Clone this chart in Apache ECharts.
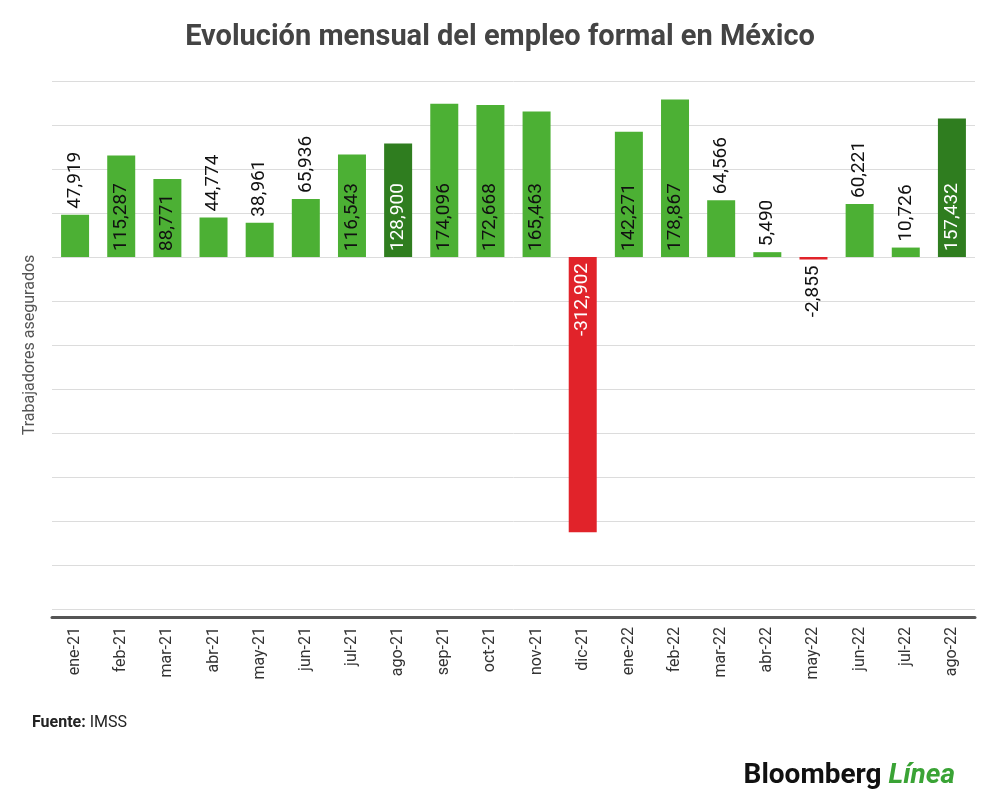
<!DOCTYPE html>
<html><head><meta charset="utf-8">
<script src="https://cdn.jsdelivr.net/npm/echarts@6/dist/echarts.min.js"></script>
<style>body{margin:0;background:#fff}#c{width:1000px;height:812px}</style>
</head><body><div id="c"></div>
<script>
var months = ['ene-21','feb-21','mar-21','abr-21','may-21','jun-21','jul-21','ago-21','sep-21','oct-21','nov-21','dic-21','ene-22','feb-22','mar-22','abr-22','may-22','jun-22','jul-22','ago-22'];
var values = [47919,115287,88771,44774,38961,65936,116543,128900,174096,172668,165463,-312902,142271,178867,64566,5490,-2855,60221,10726,157432];
var highlight = ['ago-21','ago-22'];

function fmt(v){ return v.toLocaleString('en-US'); }

var data = values.map(function(v, i){
  var color = v < 0 ? '#e1232a' : (highlight.indexOf(months[i]) >= 0 ? '#2f7d1f' : '#4cb034');
  var inside = Math.abs(v) > 80000;
  var lbl = {show:true, rotate:90, fontSize:19, fontFamily:'Roboto', formatter:function(p){return fmt(p.value);}, verticalAlign:'middle'};
  if (v >= 0) {
    if (inside) { lbl.position = 'insideBottom'; lbl.align = 'left'; lbl.distance = 6; lbl.color = color === '#2f7d1f' ? '#fff' : '#111'; }
    else { lbl.position = 'top'; lbl.align = 'left'; lbl.distance = 6; lbl.color = '#111'; }
  } else {
    if (inside) { lbl.position = 'insideTop'; lbl.align = 'right'; lbl.distance = 6; lbl.color = '#fff'; }
    else { lbl.position = 'bottom'; lbl.align = 'right'; lbl.distance = 6; lbl.color = '#111'; }
  }
  return {value:v, itemStyle:{color:color}, label:lbl};
});

var chart = echarts.init(document.getElementById('c'));
chart.setOption({
  title: [
    {text:'Evolución mensual del empleo formal en México', left:'center', top:18, textStyle:{fontSize:29, fontWeight:'bold', color:'#444', fontFamily:'Roboto'}},
    {text:'{b|Fuente:} IMSS', left:27, top:710, textStyle:{fontSize:16, fontWeight:'normal', color:'#222', fontFamily:'Roboto', rich:{b:{fontWeight:'bold', fontSize:16, color:'#222', fontFamily:'Roboto'}}}},
    {text:'Bloomberg {g|Línea}', right:40, top:757, textStyle:{fontSize:28, fontWeight:'bold', color:'#111', fontFamily:'Roboto', rich:{g:{fontSize:28, fontWeight:'bold', color:'#3aa335', fontStyle:'italic', fontFamily:'Roboto'}}}}
  ],
  grid: {left:52, right:25, top:81, bottom:203},
  xAxis: {
    type:'category', data:months, offset:8,
    axisLine:{onZero:false, lineStyle:{color:'#555', width:3}}, axisTick:{show:false},
    axisLabel:{rotate:90, fontSize:16, color:'#333', fontFamily:'Roboto', margin:10}
  },
  yAxis: {
    type:'value', min:-400000, max:200000, interval:50000,
    name:'Trabajadores asegurados', nameLocation:'middle', nameGap:14, nameRotate:90,
    nameTextStyle:{fontSize:16, color:'#555', fontFamily:'Roboto'},
    axisLabel:{show:false}, axisLine:{show:false}, axisTick:{show:false},
    splitLine:{lineStyle:{color:'#dcdcdc'}}
  },
  series: [{type:'bar', data:data, barWidth:28, animation:false}]
});
</script></body></html>
